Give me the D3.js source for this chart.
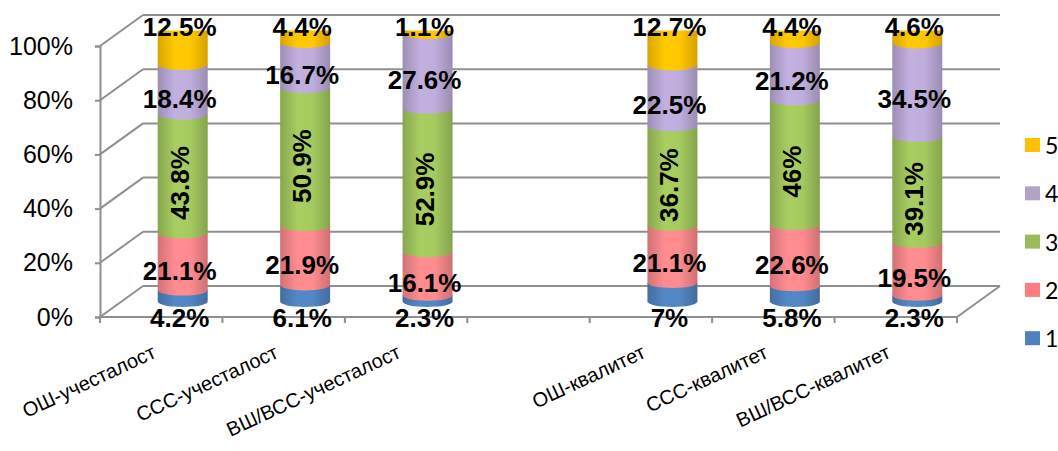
<!DOCTYPE html>
<html>
<head>
<meta charset="utf-8">
<script src="https://cdn.jsdelivr.net/npm/d3@7"></script>
<style>
  body { margin: 0; background: #fff; }
  svg { display: block; font-family: "Liberation Sans", Arial, sans-serif; }
</style>
</head>
<body>
<script>
// categories, "" is the empty slot between the two groups
var categories = ["ОШ-учесталост", "ССС-учесталост", "ВШ/ВСС-учесталост", "", "ОШ-квалитет", "ССС-квалитет", "ВШ/ВСС-квалитет"];
var seriesNames = ["1", "2", "3", "4", "5"];
var s1 = [4.2, 6.1, 2.3, null, 7, 5.8, 2.3];
var s2 = [21.1, 21.9, 16.1, null, 21.1, 22.6, 19.5];
var s3 = [43.8, 50.9, 52.9, null, 36.7, 46, 39.1];
var s4 = [18.4, 16.7, 27.6, null, 22.5, 21.2, 34.5];
var s5 = [12.5, 4.4, 1.1, null, 12.7, 4.4, 4.6];
var yTicks = [0, 0.2, 0.4, 0.6, 0.8, 1];
var colors = ["#4F81BD", "#F7868A", "#9FC35C", "#B8A7D4", "#FFC000"];
var legendColors = ["#4F81BD", "#FF7C80", "#9BBB59", "#B3A2C7", "#FFC000"];

var w = 1058, h = 451;
var allSeries = [s1, s2, s3, s4, s5];

// 3d box
var dx = 43, dy = -31;
var floorY = 317;

var svg = d3.select("body").append("svg")
    .attr("width", w)
    .attr("height", h);

var defs = svg.append("defs");
colors.forEach(function(c, i) {
  var g = defs.append("linearGradient").attr("id", "cyl" + i)
      .attr("x1", "0%").attr("x2", "100%").attr("y1", "0%").attr("y2", "0%");
  var base = d3.color(c);
  g.append("stop").attr("offset", "0%").attr("stop-color", base.darker(0.45));
  g.append("stop").attr("offset", "35%").attr("stop-color", base.brighter(0.15));
  g.append("stop").attr("offset", "65%").attr("stop-color", base.brighter(0.1));
  g.append("stop").attr("offset", "100%").attr("stop-color", base.darker(0.5));
});

var x = d3.scaleBand()
    .domain(d3.range(categories.length))
    .range([100, 957])
    .padding(0);

var y = d3.scaleLinear().domain([0, 1]).range([floorY, 46]);

var grid = "#8f8f8f";

// back wall gridlines + left wall diagonals
svg.append("g").selectAll("line.back")
    .data(yTicks).enter().append("line")
    .attr("x1", 100 + dx).attr("x2", 957 + dx)
    .attr("y1", function(d) { return y(d) + dy; })
    .attr("y2", function(d) { return y(d) + dy; })
    .attr("stroke", grid).attr("stroke-width", 2);

svg.append("g").selectAll("line.side")
    .data(yTicks).enter().append("line")
    .attr("x1", 100).attr("x2", 100 + dx)
    .attr("y1", function(d) { return y(d); })
    .attr("y2", function(d) { return y(d) + dy; })
    .attr("stroke", grid).attr("stroke-width", 2);

// floor front and right edges
svg.append("line").attr("x1", 100).attr("x2", 957).attr("y1", floorY).attr("y2", floorY)
    .attr("stroke", grid).attr("stroke-width", 2);
svg.append("line").attr("x1", 957).attr("x2", 957 + dx).attr("y1", floorY).attr("y2", floorY + dy)
    .attr("stroke", grid).attr("stroke-width", 2);

// category ticks on the floor
svg.append("g").selectAll("line")
    .data(d3.range(categories.length + 1)).enter().append("line")
    .attr("x1", function(d) { return 100 + d * x.bandwidth(); })
    .attr("x2", function(d) { return 100 + d * x.bandwidth(); })
    .attr("y1", floorY).attr("y2", floorY + 6)
    .attr("stroke", grid).attr("stroke-width", 2);

// value axis
var yAxis = d3.axisLeft(y).tickValues(yTicks).tickFormat(d3.format(".0%"))
    .tickSize(5).tickPadding(22);
var ax = svg.append("g").attr("transform", "translate(100,0)").call(yAxis);
ax.select(".domain").attr("stroke", grid).attr("stroke-width", 2);
ax.selectAll(".tick line").attr("stroke", grid).attr("stroke-width", 2);
ax.selectAll(".tick text").attr("font-size", 25).attr("fill", "#000")
    .attr("font-family", "Liberation Sans, Arial, sans-serif");

// category labels
svg.append("g").selectAll("text")
    .data(categories).enter().append("text")
    .attr("transform", function(d, i) {
      return "translate(" + (x(i) + x.bandwidth() / 2 - 4) + ",357) rotate(-25)";
    })
    .attr("text-anchor", "end")
    .attr("font-size", 20)
    .text(function(d) { return d; });

// stacked cylinders
var rows = categories.map(function(c, i) {
  var r = { i: i };
  seriesNames.forEach(function(s, k) { r[s] = allSeries[k][i] || 0; });
  return r;
}).filter(function(r) { return categories[r.i] !== ""; });

var stack = d3.stack().keys(seriesNames).offset(d3.stackOffsetExpand);
var layers = stack(rows);

var rx = 25, ry = 5.5;
var ym = function(v) { return y(v) + dy / 2; };   // mid depth
var cx = function(i) { return x(i) + x.bandwidth() / 2 + dx / 2; };

var bars = svg.append("g");
layers.forEach(function(layer, k) {
  bars.selectAll(null).data(layer).enter().append("path")
      .attr("d", function(d) {
        var c = cx(d.data.i), t = ym(d[1]), b = ym(d[0]);
        return "M" + (c - rx) + "," + t + " L" + (c - rx) + "," + b +
               " A" + rx + "," + ry + " 0 0 0 " + (c + rx) + "," + b +
               " L" + (c + rx) + "," + t + " Z";
      })
      .attr("fill", "url(#cyl" + k + ")");
});
// top caps
var top = layers[layers.length - 1];
bars.selectAll(null).data(top).enter().append("ellipse")
    .attr("cx", function(d) { return cx(d.data.i); })
    .attr("cy", function(d) { return ym(d[1]); })
    .attr("rx", rx).attr("ry", ry)
    .attr("fill", d3.color(colors[4]).brighter(0.25));

// data labels
var labels = svg.append("g").attr("font-weight", "bold").attr("font-size", 26).attr("fill", "#000");
layers.forEach(function(layer, k) {
  labels.selectAll(null).data(layer).enter().append("text")
      .attr("text-anchor", "middle")
      .attr("dominant-baseline", "central")
      .attr("transform", function(d) {
        var lx = cx(d.data.i) - 3, ly;
        if (k === 0) ly = y(0) + 1;
        else if (k === 4) ly = ym(1) - 4;
        else ly = y((d[0] + d[1]) / 2) - 6;
        return "translate(" + lx + "," + ly + ")" + (k === 2 ? " rotate(-90)" : "");
      })
      .text(function(d) { return d.data[seriesNames[k]] + "%"; });
});

// legend
var legend = svg.append("g").attr("font-family", "Lato, 'Open Sans', sans-serif").attr("font-size", 23);
var items = seriesNames.slice().reverse();
items.forEach(function(s, j) {
  var k = seriesNames.length - 1 - j;
  var ly = 145 + j * 48.3;
  legend.append("rect").attr("x", 1025).attr("y", ly - 7).attr("width", 15).attr("height", 14)
      .attr("fill", legendColors[k]);
  legend.append("text").attr("x", 1045).attr("y", ly).attr("dominant-baseline", "central")
      .text(s);
});
</script>
</body>
</html>
